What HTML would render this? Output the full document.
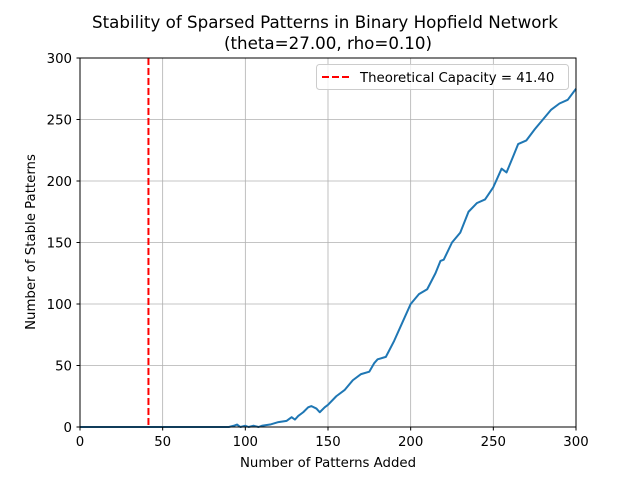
<!DOCTYPE html>
<html><head><meta charset="utf-8"><style>
body{margin:0;background:#fff;}
svg text{font-family:"DejaVu Sans","Liberation Sans",sans-serif;fill:#000;}
</style></head><body>
<svg id="chart" width="640" height="480">
<rect width="640" height="480" fill="#fff"/>
<g id="grid"></g>
<g id="series"></g>
<rect x="80" y="58" width="496" height="369" fill="none" stroke="#000" stroke-width="1"/>
<g id="ticks"></g>
<text x="325" y="28" font-size="16.7" text-anchor="middle">Stability of Sparsed Patterns in Binary Hopfield Network</text>
<text x="328" y="49" font-size="16.7" text-anchor="middle">(theta=27.00, rho=0.10)</text>
<text x="328" y="467" font-size="13.3" text-anchor="middle">Number of Patterns Added</text>
<text transform="translate(35,242) rotate(-90)" font-size="13.3" text-anchor="middle">Number of Stable Patterns</text>
<g>
<rect x="316.5" y="64.5" width="252" height="25" rx="3" fill="#fff" fill-opacity="0.8" stroke="#ccc"/>
<line x1="322" y1="77" x2="350" y2="77" stroke="#f00" stroke-width="2" stroke-dasharray="7,3"/>
<text x="360" y="82" font-size="13.3">Theoretical Capacity = 41.40</text>
</g>
</svg>
<script>
const xTicks=[0,50,100,150,200,250,300];
const yTicks=[0,50,100,150,200,250,300];
const capacity=41.4;
const xs=[0,90,93,95,97,100,102,105,108,110,115,120,125,128,130,132,135,138,140,143,145,148,150,155,160,165,170,175,178,180,185,190,195,200,205,210,215,218,220,225,230,235,240,245,250,255,258,262,265,270,275,280,285,290,295,300];
const ys=[0,0,1,2,0,1,0,1,0,1,2,4,5,8,6,9,12,16,17,15,12,16,18,25,30,38,43,45,52,55,57,70,85,100,108,112,125,135,136,150,158,175,182,185,195,210,207,220,230,233,242,250,258,263,266,275];
const X=v=>80+v*496/300, Y=v=>427-v*369/300;
const NS="http://www.w3.org/2000/svg";
const g=document.getElementById('grid'),t=document.getElementById('ticks'),s=document.getElementById('series');
function mk(tag,a,p){const e=document.createElementNS(NS,tag);for(const k in a)e.setAttribute(k,a[k]);p.appendChild(e);return e;}
xTicks.forEach(v=>{
 const l=mk('line',{x1:X(v),x2:X(v),y1:58,y2:427,stroke:'#b0b0b0','stroke-width':0.8},g);
 
 
 const k=mk('line',{x1:X(v),x2:X(v),y1:427,y2:430.5,stroke:'#000'},t);
 
 
 const tx=mk('text',{x:X(v),y:446,'font-size':13.3,'text-anchor':'middle'},t);tx.textContent=v;
 
 
});
yTicks.forEach(v=>{
 const l=mk('line',{x1:80,x2:576,y1:Y(v),y2:Y(v),stroke:'#b0b0b0','stroke-width':0.8},g);
 
 
 const k=mk('line',{x1:76.5,x2:80,y1:Y(v),y2:Y(v),stroke:'#000'},t);
 
 
 const tx=mk('text',{x:72,y:Y(v)+5,'font-size':13.3,'text-anchor':'end'},t);tx.textContent=v;
 
 
});
const p=mk('polyline',{points:xs.map((x,i)=>X(x)+','+Y(ys[i])).join(' '),fill:'none',stroke:'#1f77b4','stroke-width':2,'stroke-linejoin':'round'},s);


const c=mk('line',{x1:X(capacity),x2:X(capacity),y1:58,y2:427,stroke:'#f00','stroke-width':2,'stroke-dasharray':'7,3'},s);


</script>
</body></html>
